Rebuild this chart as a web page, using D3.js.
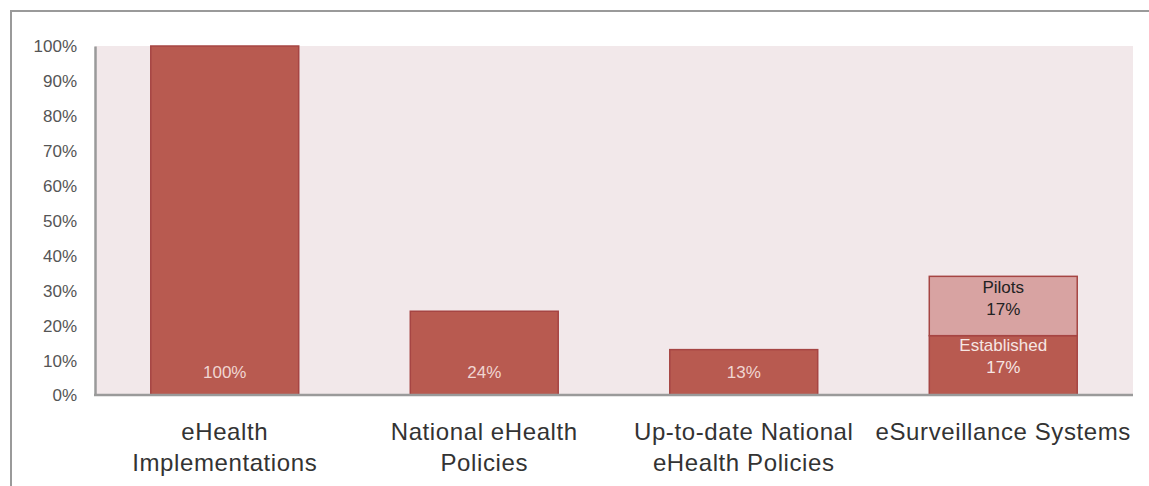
<!DOCTYPE html>
<html>
<head>
<meta charset="utf-8">
<script src="https://cdn.jsdelivr.net/npm/d3@7"></script>
<style>
  body { margin: 0; background: #fff; }
  svg { display: block; font-family: "Liberation Sans", "DejaVu Sans", sans-serif; }
</style>
</head>
<body>
<svg id="chart" width="1149" height="486"></svg>
<script>
// Categories and values (percent)
const categories = [
  ["eHealth", "Implementations"],
  ["National eHealth", "Policies"],
  ["Up-to-date National", "eHealth Policies"],
  ["eSurveillance Systems"]
];
const established = [100, 24, 13, 17];
const pilots = [0, 0, 0, 17];
const yTicks = [0, 10, 20, 30, 40, 50, 60, 70, 80, 90, 100];

const svg = d3.select("#chart");
const margin = { left: 95, right: 16, top: 46, bottom: 91 };
const W = 1149, H = 486;

// Outer frame
svg.append("path")
  .attr("d", `M11,486 L11,11 L1149,11`)
  .attr("fill", "none").attr("stroke", "#9a9a9a").attr("stroke-width", 2);

const x = d3.scaleBand()
  .domain(d3.range(categories.length))
  .range([margin.left, W - margin.right])
  .paddingInner(0.426).paddingOuter(0.213);

const y = d3.scaleLinear().domain([0, 100]).range([H - margin.bottom, margin.top]);

// Plot background
svg.append("rect")
  .attr("x", margin.left).attr("y", y(100))
  .attr("width", W - margin.right - margin.left)
  .attr("height", y(0) - y(100))
  .attr("fill", "#f2e8ea");

const barFill = "#b85a50", barStroke = "#a64543", pilotFill = "#d8a3a2";

const g = svg.append("g");
categories.forEach((c, i) => {
  g.append("rect")
    .attr("x", x(i) + 0.5).attr("y", y(established[i]))
    .attr("width", x.bandwidth() - 1).attr("height", y(0) - y(established[i]))
    .attr("fill", barFill).attr("stroke", barStroke).attr("stroke-width", 1.5);
  if (pilots[i] > 0) {
    g.append("rect")
      .attr("x", x(i) + 0.5).attr("y", y(established[i] + pilots[i]))
      .attr("width", x.bandwidth() - 1).attr("height", y(established[i]) - y(established[i] + pilots[i]))
      .attr("fill", pilotFill).attr("stroke", barStroke).attr("stroke-width", 1.5);
  }
});

// Value labels
const cx = i => x(i) + x.bandwidth() / 2;
const lblSize = 17;
categories.forEach((c, i) => {
  if (pilots[i] > 0) {
    const ySplit = y(established[i]);
    const yTop = y(established[i] + pilots[i]);
    g.append("text").attr("x", cx(i)).attr("y", yTop + 17)
      .attr("text-anchor", "middle").attr("font-size", lblSize).attr("fill", "#222").text("Pilots");
    g.append("text").attr("x", cx(i)).attr("y", yTop + 39)
      .attr("text-anchor", "middle").attr("font-size", lblSize).attr("fill", "#222").text(pilots[i] + "%");
    g.append("text").attr("x", cx(i)).attr("y", ySplit + 15)
      .attr("text-anchor", "middle").attr("font-size", lblSize).attr("fill", "#f6e6e3").text("Established");
    g.append("text").attr("x", cx(i)).attr("y", ySplit + 37)
      .attr("text-anchor", "middle").attr("font-size", lblSize).attr("fill", "#f6e6e3").text(established[i] + "%");
  } else {
    g.append("text").attr("x", cx(i)).attr("y", y(0) - 17)
      .attr("text-anchor", "middle").attr("font-size", lblSize).attr("fill", "#f0d6d2")
      .text(established[i] + "%");
  }
});

// Y axis
const yAxis = d3.axisLeft(y).tickValues(yTicks).tickSize(0).tickPadding(18)
  .tickFormat(d => d + "%");
const ya = svg.append("g").attr("transform", `translate(${margin.left},0)`).call(yAxis);
ya.select(".domain").attr("stroke", "#9a9a9a").attr("stroke-width", 2.5);
ya.selectAll("text").attr("font-size", 17).attr("fill", "#555")
  .attr("font-family", "Liberation Sans, sans-serif").attr("dy", "0.35em");

// X axis line
svg.append("line")
  .attr("x1", margin.left - 1).attr("x2", W - margin.right)
  .attr("y1", y(0)).attr("y2", y(0))
  .attr("stroke", "#9a9a9a").attr("stroke-width", 2.5);

// Category labels
categories.forEach((lines, i) => {
  const t = svg.append("text").attr("text-anchor", "middle")
    .attr("font-size", 24).attr("letter-spacing", 0.6).attr("fill", "#333");
  lines.forEach((ln, k) => {
    t.append("tspan").attr("x", cx(i)).attr("y", 440 + k * 31).text(ln);
  });
});
</script>
</body>
</html>
